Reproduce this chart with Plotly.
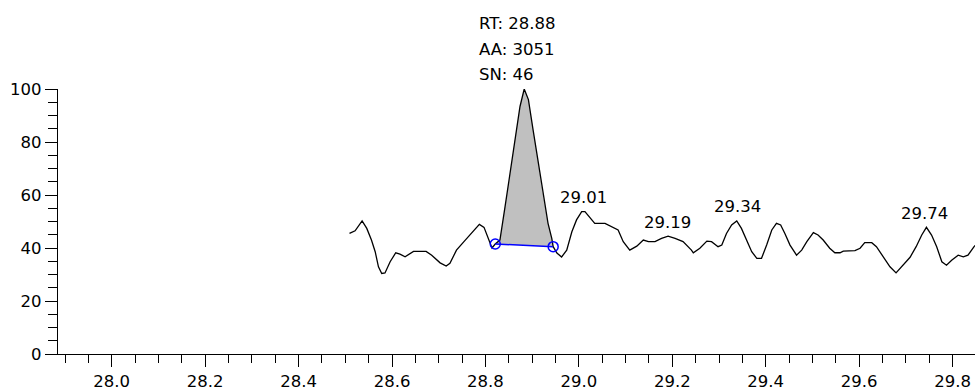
import plotly.graph_objects as go

# Retention time (min) and relative intensity (%)
rt = [28.509, 28.521, 28.536, 28.546, 28.556, 28.564, 28.571, 28.578, 28.585, 28.596,
      28.608, 28.617, 28.628, 28.646, 28.673, 28.685, 28.703, 28.716, 28.724, 28.738,
      28.754, 28.771, 28.787, 28.797, 28.805, 28.814, 28.821, 28.831, 28.842, 28.853,
      28.863, 28.874, 28.883, 28.892, 28.902, 28.913, 28.924, 28.934, 28.942, 28.945,
      28.953, 28.963, 28.974, 28.985, 28.995, 29.006, 29.013, 29.024, 29.034, 29.056,
      29.070, 29.084, 29.095, 29.109, 29.124, 29.138, 29.149, 29.163, 29.177, 29.191,
      29.206, 29.223, 29.241, 29.245, 29.259, 29.274, 29.284, 29.298, 29.306, 29.316,
      29.327, 29.338, 29.348, 29.359, 29.370, 29.381, 29.391, 29.402, 29.413, 29.423,
      29.432, 29.441, 29.452, 29.466, 29.477, 29.488, 29.502, 29.512, 29.523, 29.537,
      29.548, 29.559, 29.566, 29.591, 29.602, 29.612, 29.627, 29.637, 29.651, 29.666,
      29.679, 29.691, 29.709, 29.722, 29.734, 29.744, 29.755, 29.766, 29.777, 29.787,
      29.798, 29.812, 29.823, 29.833, 29.846, 29.858]
intensity = [45.5, 46.5, 50.2, 47.4, 43.0, 38.6, 32.9, 30.4, 30.6, 34.8,
             38.2, 37.7, 36.7, 38.7, 38.7, 37.3, 34.4, 33.2, 34.2, 39.2,
             42.4, 45.8, 48.9, 47.8, 44.3, 40.0, 41.5, 43.0, 55.6, 68.2,
             80.8, 93.4, 100.0, 96.0, 84.6, 72.0, 59.4, 49.3, 43.6, 40.5,
             38.1, 36.6, 39.2, 46.1, 50.6, 53.7, 53.7, 51.2, 49.3, 49.3,
             48.0, 46.8, 42.4, 39.2, 40.7, 43.0, 42.4, 42.4, 43.6, 44.5,
             43.6, 42.4, 39.2, 38.2, 39.9, 42.6, 42.4, 40.5, 41.1, 45.5,
             48.7, 50.2, 47.4, 43.0, 38.6, 36.1, 36.1, 41.1, 46.8, 49.3,
             48.7, 45.5, 41.1, 37.3, 39.2, 42.4, 45.8, 44.9, 43.0, 39.9,
             38.2, 38.2, 38.8, 39.0, 39.9, 42.0, 42.0, 40.5, 36.7, 32.9,
             30.6, 32.9, 36.5, 40.5, 44.9, 47.8, 44.9, 40.5, 34.8, 33.5,
             35.4, 37.3, 36.7, 37.3, 40.5, 42.9]

# Integrated peak (start / end of baseline)
peak_start_rt, peak_end_rt = 28.821, 28.945
peak_info = ["RT: 28.88", "AA: 3051", "SN: 46"]
peak_apex_rt, peak_apex_int = 28.883, 100.0

# Labelled minor peaks
label_rt = [29.01, 29.19, 29.34, 29.74]
label_int = [53.7, 44.5, 50.2, 47.8]
label_text = ["29.01", "29.19", "29.34", "29.74"]

FONT = "DejaVu Sans"
FS = 16.5

i0 = rt.index(peak_start_rt)
i1 = rt.index(peak_end_rt)
px = rt[i0:i1 + 1]
py = intensity[i0:i1 + 1]

fig = go.Figure()
fig.add_trace(go.Scatter(x=px, y=py, fill="toself", fillcolor="#C0C0C0",
                         mode="none", hoverinfo="skip", showlegend=False))
fig.add_trace(go.Scatter(x=rt, y=intensity, mode="lines",
                         line=dict(color="black", width=1.3),
                         hoverinfo="skip", showlegend=False))
fig.add_trace(go.Scatter(x=[px[0], px[-1]], y=[py[0], py[-1]], mode="lines+markers",
                         line=dict(color="#0000FF", width=1.5),
                         marker=dict(symbol="circle-open", size=10,
                                     color="#0000FF", line=dict(width=1.5)),
                         hoverinfo="skip", showlegend=False))

for x, y, t in zip(label_rt, label_int, label_text):
    fig.add_annotation(x=x, y=y, xref="x", yref="y", text=t, showarrow=False,
                       xanchor="center", yanchor="middle", yshift=14,
                       font=dict(family=FONT, size=FS, color="black"))

for k, t in enumerate(peak_info):
    fig.add_annotation(x=peak_apex_rt, y=1, xref="x", yref="paper", text=t,
                       showarrow=False, xanchor="left", yanchor="middle",
                       xshift=-47, yshift=65.5 - 25.7 * k,
                       font=dict(family=FONT, size=FS, color="black"))

axis_common = dict(showgrid=False, zeroline=False, showline=True, linecolor="black",
                   linewidth=1.3, ticks="outside", ticklen=12, tickwidth=1.3,
                   tickcolor="black", tickfont=dict(family=FONT, size=FS, color="black"))

fig.update_xaxes(range=[27.885, 29.848], tick0=28.0, dtick=0.2, tickformat=".1f",
                 minor=dict(tick0=28.0, dtick=0.05, ticks="outside", ticklen=8,
                            tickwidth=1.3, tickcolor="black"),
                 **axis_common)
fig.update_yaxes(range=[0, 100], tick0=0, dtick=20,
                 minor=dict(tick0=0, dtick=5, ticks="outside", ticklen=9,
                            tickwidth=1.3, tickcolor="black"),
                 **axis_common)

fig.update_layout(width=975, height=390, margin=dict(l=58, r=0, t=89, b=36),
                  plot_bgcolor="white", paper_bgcolor="white", showlegend=False)

fig.write_html("out.html")
